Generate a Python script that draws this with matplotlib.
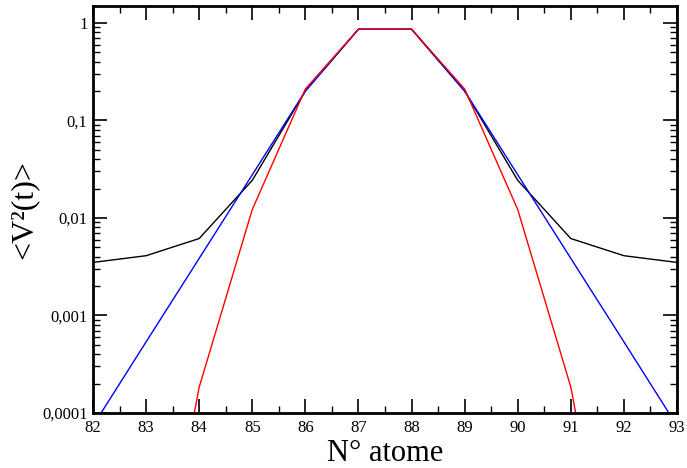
import matplotlib
matplotlib.use("Agg")
import matplotlib.pyplot as plt
from matplotlib.ticker import FixedLocator, LogLocator, NullFormatter, MultipleLocator

atoms = [82, 83, 84, 85, 86, 87, 88, 89, 90, 91, 92, 93]
black = [0.0035, 0.0041, 0.00615, 0.0243, 0.2, 0.862, 0.862, 0.2, 0.0243, 0.00615, 0.0041, 0.0035]
blue = [7.4e-5, 0.000536, 0.00385, 0.0277, 0.2, 0.862, 0.862, 0.2, 0.0277, 0.00385, 0.000536, 7.4e-5]
red = [1e-10, 2.5e-7, 0.000184, 0.0122, 0.21, 0.862, 0.862, 0.21, 0.0122, 0.000184, 2.5e-7, 1e-10]

ytick_vals = [0.0001, 0.001, 0.01, 0.1, 1]
ytick_labels = ["0,0001", "0,001", "0,01", "0,1", "1"]
xticks = list(range(82, 94))

plt.rcParams['font.family'] = ['Liberation Serif', 'DejaVu Serif']
plt.rcParams['mathtext.fontset'] = 'stix'

fig = plt.figure(figsize=(6.87, 4.68), dpi=100)
ax = fig.add_axes([93/687, 1 - 413/468, (677-93)/687, (413-6)/468])

ax.plot(atoms, black, color='black', lw=1.0)
ax.plot(atoms, blue, color='blue', lw=1.0)
ax.plot(atoms, red, color='red', lw=1.0)

ax.set_yscale('log')
ax.set_xlim(82, 93)
ax.set_ylim(0.0001, 1.49)

ax.set_xticks(xticks)
ax.set_xticklabels([str(x) for x in xticks])
ax.xaxis.set_minor_locator(MultipleLocator(0.5))
ax.yaxis.set_major_locator(FixedLocator(ytick_vals))
ax.set_yticklabels(ytick_labels)
ax.yaxis.set_minor_locator(LogLocator(base=10, subs=range(2, 10)))
ax.yaxis.set_minor_formatter(NullFormatter())

ax.tick_params(which='both', direction='in', top=True, right=True, labelsize=12)
ax.tick_params(which='major', length=10, width=1.2)
ax.tick_params(which='minor', length=5, width=1.0)
ax.tick_params(axis='x', pad=5)
ax.tick_params(axis='y', pad=4)
for s in ax.spines.values():
    s.set_linewidth(2)

ax.set_xlabel("N° atome", fontsize=22, labelpad=2)
ax.set_ylabel("<V²(t)>", fontsize=23)
ax.yaxis.set_label_coords(-0.093, 0.5)

fig.savefig("out.png", dpi=100)
